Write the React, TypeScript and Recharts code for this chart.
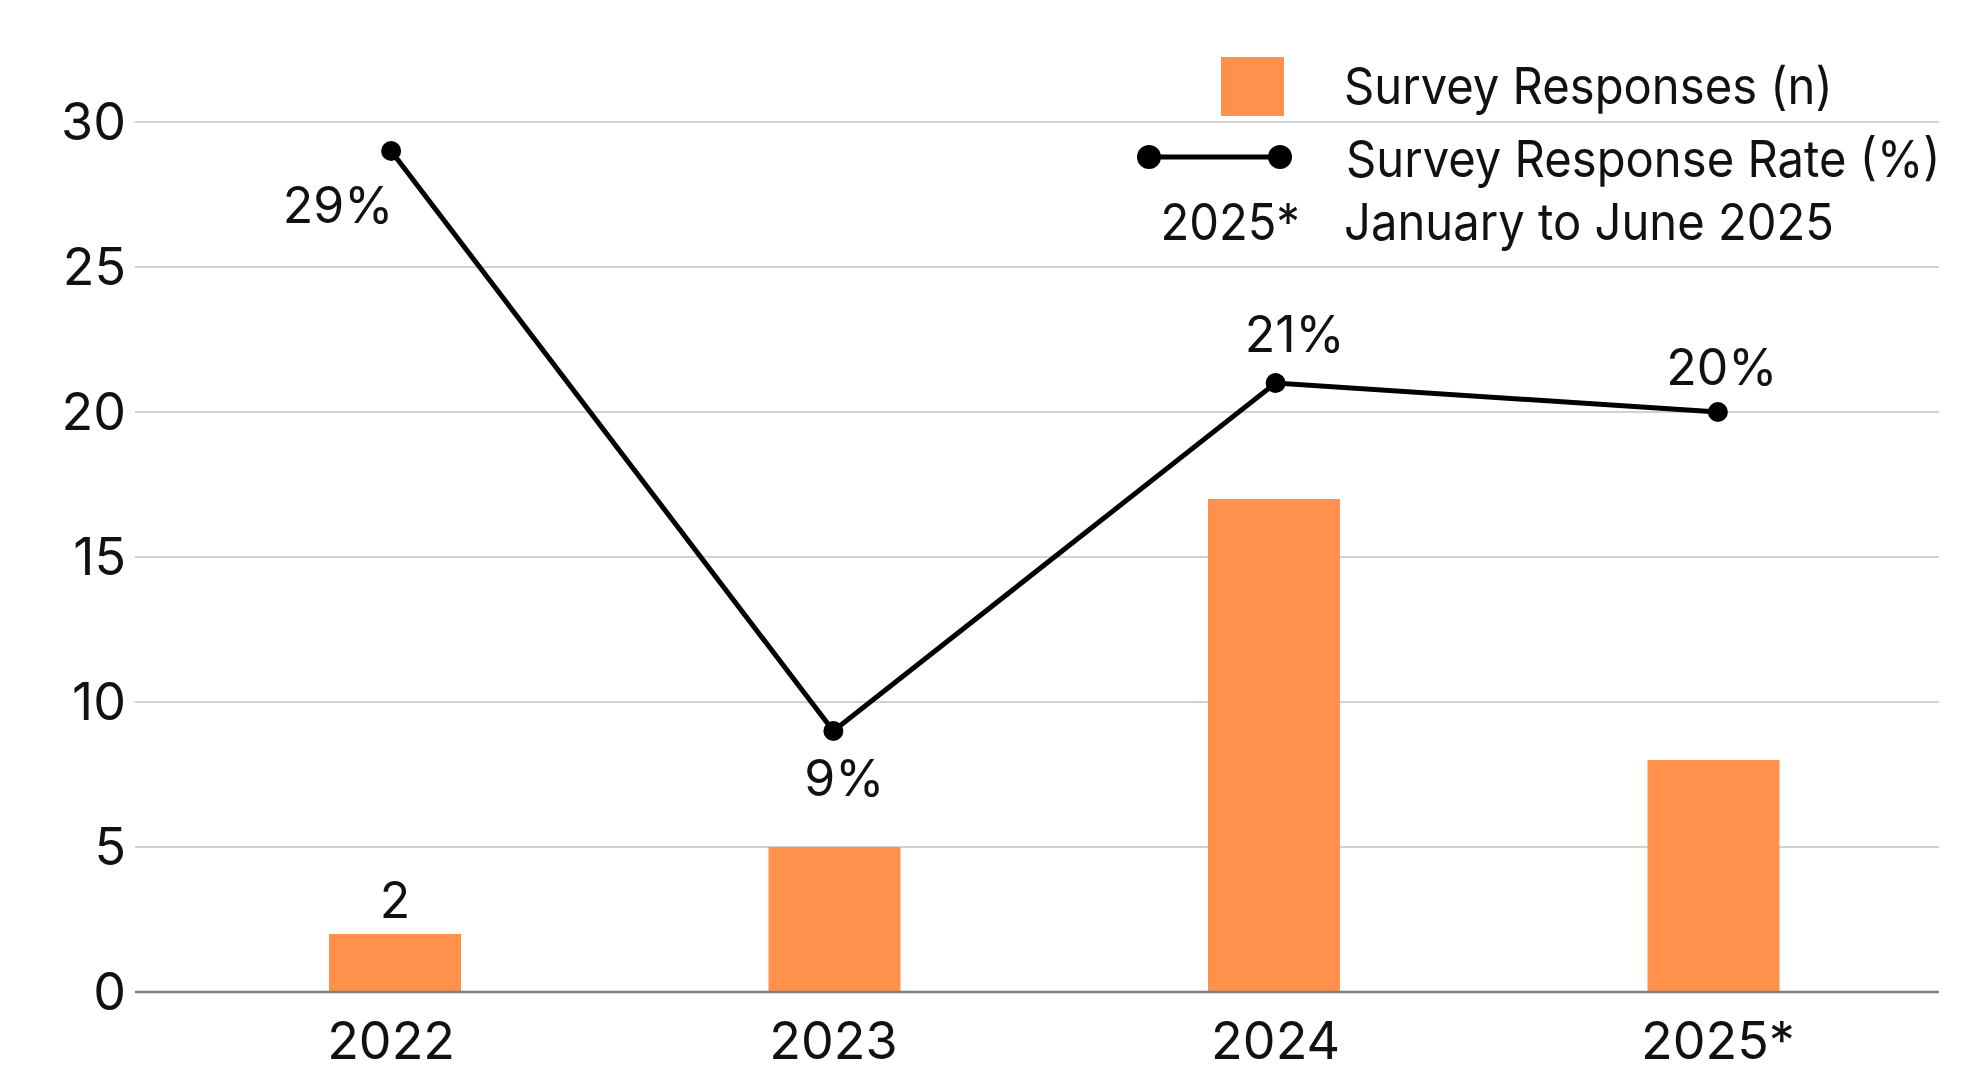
import * as React from 'react';
import {
  ComposedChart,
  Bar,
  Line,
  XAxis,
  YAxis,
  CartesianGrid,
  LabelList,
} from 'recharts';

const years = ['2022', '2023', '2024', '2025*'];
const responses = [2, 5, 17, 8];
const responseRate = [29, 9, 21, 20];
const barLabels = ['2', '', '', ''];
const yTicks = [0, 5, 10, 15, 20, 25, 30];

const ORANGE = '#FF914D';
const FONT = 'Inter, "Noto Sans", sans-serif';
const TICK_FS = 52;
const LABEL_FS = 50;
const LEGEND_FS = 51;

const data = years.map((y, i) => ({
  year: y,
  responses: responses[i],
  rate: responseRate[i],
}));

// where each rate label sits relative to its point: [dx, dy of text centre]
const rateLabelOffsets = [
  [-53, 54],
  [11, 47],
  [19, -49],
  [4, -45],
];

const RateLabel = (props: any) => {
  const { x, y, index, value } = props;
  const [dx, dy] = rateLabelOffsets[index] || [0, -40];
  return (
    <text
      x={x + dx}
      y={y + dy + LABEL_FS * 0.35}
      textAnchor="middle"
      fontFamily={FONT}
      fontSize={LABEL_FS}
      fill="#111"
    >
      {value}%
    </text>
  );
};

const BarTopLabel = (props: any) => {
  const { x, y, width, index } = props;
  const txt = barLabels[index];
  if (!txt) return null;
  return (
    <text
      x={x + width / 2}
      y={y - 16}
      textAnchor="middle"
      fontFamily={FONT}
      fontSize={LABEL_FS}
      fill="#111"
    >
      {txt}
    </text>
  );
};

const legendText: React.CSSProperties = {
  position: 'absolute',
  fontFamily: FONT,
  fontSize: LEGEND_FS,
  color: '#111',
  lineHeight: '1',
  whiteSpace: 'nowrap',
  transform: 'translateY(-50%) scaleX(0.925)',
  transformOrigin: 'left center',
};

const App = () => {
  return (
    <div
      style={{
        position: 'absolute',
        left: 0,
        top: 0,
        width: 1984,
        height: 1071,
        background: '#fff',
      }}
    >
      <ComposedChart
        width={1984}
        height={1071}
        data={data}
        margin={{ top: 122, right: 45, left: 0, bottom: 0 }}
      >
        <CartesianGrid
          vertical={false}
          stroke="#d2d2d2"
          strokeWidth={2}
        />
        {/* bars sit on a slightly narrower band than the line and tick labels */}
        <XAxis
          xAxisId="bars"
          dataKey="year"
          padding={{ left: 40, right: 6 }}
          height={79}
          hide
        />
        <XAxis
          dataKey="year"
          padding={{ left: 35, right: 0 }}
          height={79}
          tickLine={false}
          tickSize={0}
          tickMargin={30}
          axisLine={{ stroke: '#7f7f7f', strokeWidth: 2.5 }}
          tick={{ fontFamily: FONT, fontSize: TICK_FS, fill: '#111' }}
        />
        <YAxis
          width={135}
          domain={[0, 30]}
          ticks={yTicks}
          axisLine={false}
          tickLine={false}
          tickSize={0}
          tickMargin={9}
          tick={{ fontFamily: FONT, fontSize: TICK_FS, fill: '#111' }}
        />
        <Bar
          xAxisId="bars"
          dataKey="responses"
          fill={ORANGE}
          barSize={132}
          isAnimationActive={false}
        >
          <LabelList dataKey="responses" content={BarTopLabel} />
        </Bar>
        <Line
          dataKey="rate"
          stroke="#000"
          strokeWidth={5}
          dot={{ r: 10, fill: '#000', stroke: '#000', strokeWidth: 0 }}
          activeDot={false}
          isAnimationActive={false}
        >
          <LabelList dataKey="rate" content={RateLabel} />
        </Line>
      </ComposedChart>

      {/* legend */}
      <div
        style={{
          position: 'absolute',
          left: 1221,
          top: 57,
          width: 63,
          height: 59,
          background: ORANGE,
        }}
      />
      <div style={{ ...legendText, left: 1344, top: 85 }}>
        Survey Responses (n)
      </div>
      <svg
        style={{ position: 'absolute', left: 1129, top: 137 }}
        width={174}
        height={40}
      >
        <line x1={20} y1={20} x2={151} y2={20} stroke="#000" strokeWidth={5} />
        <circle cx={20} cy={20} r={12} fill="#000" />
        <circle cx={151} cy={20} r={12} fill="#000" />
      </svg>
      <div style={{ ...legendText, left: 1346, top: 158 }}>
        Survey Response Rate (%)
      </div>
      <div
        style={{
          ...legendText,
          left: 1000,
          width: 300,
          textAlign: 'right',
          top: 221,
          transformOrigin: 'right center',
        }}
      >
        2025*
      </div>
      <div style={{ ...legendText, left: 1344, top: 221 }}>
        January to June 2025
      </div>
    </div>
  );
};

export default App;
